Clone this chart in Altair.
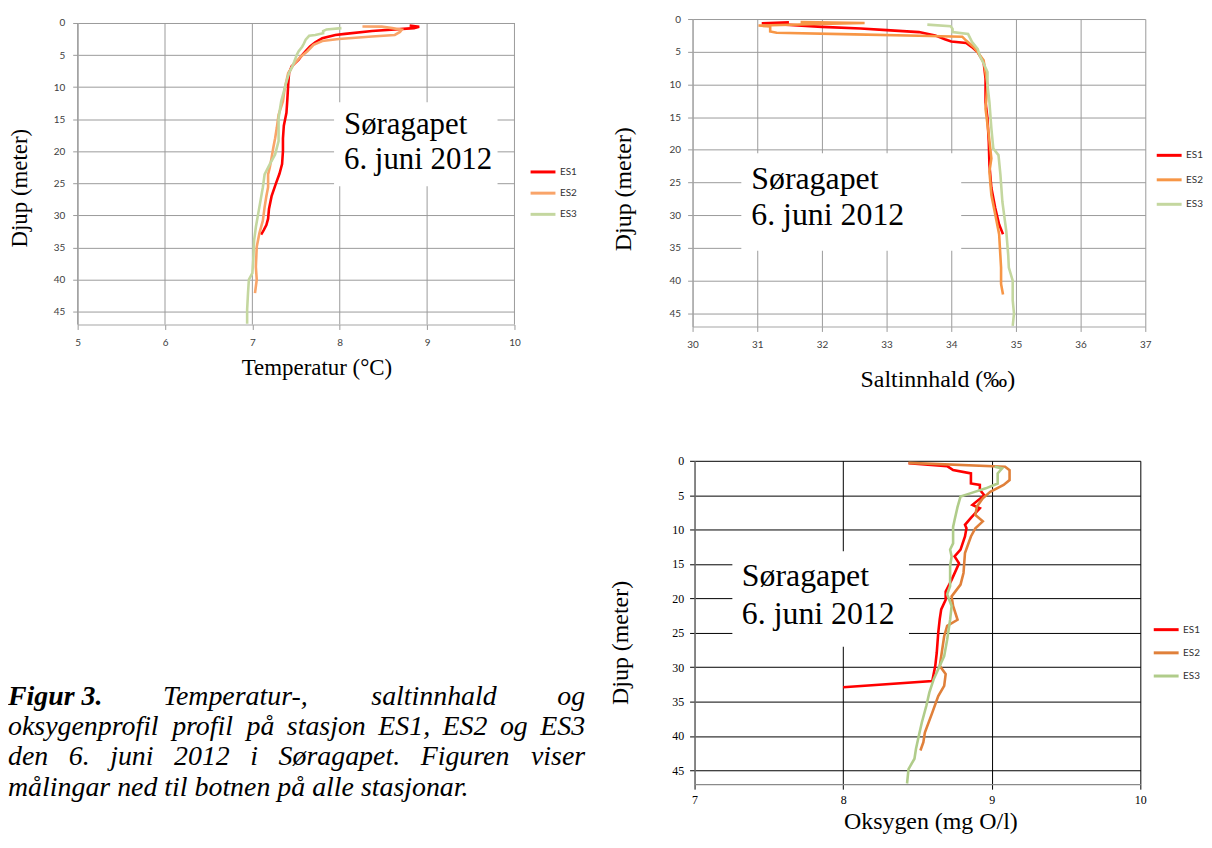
import altair as alt
import pandas as pd

SERIF = "Liberation Serif"
SANS = "Lato"
STATIONS = ["ES1", "ES2", "ES3"]
DEPTH_TICKS = [0, 5, 10, 15, 20, 25, 30, 35, 40, 45]
DEPTH_DOMAIN = [0, 47]

# ---------------- Temperatur (°C) ----------------
temp_ticks = [5, 6, 7, 8, 9, 10]
temp_es1_depth = [0.4, 0.6, 0.8, 1.24, 1.7, 1.86, 2.38, 3.0, 3.66, 4.4, 5.0, 5.7, 6.75, 7.8, 9.6,
                  12, 14, 16, 18, 20, 22, 23.5, 25, 27, 29, 30.5, 31.5, 32.3, 33]
temp_es1_value = [8.80, 8.91, 8.85, 8.37, 8.06, 7.95, 7.80, 7.72, 7.66, 7.61, 7.57, 7.53, 7.45, 7.42, 7.41,
                  7.40, 7.39, 7.36, 7.35, 7.35, 7.34, 7.31, 7.27, 7.22, 7.19, 7.18, 7.16, 7.13, 7.10]
temp_es2_depth = [0.55, 0.57, 0.8, 1.05, 1.4, 1.86, 2.1, 2.5, 2.8, 3.4, 4.4, 5.3, 6.5, 7.8, 9.0, 10.2,
                  12.2, 14.3, 16.3, 18.0, 19.4, 21.0, 22.5, 23.6, 25.6, 27.0, 28.7, 30.8, 32.8, 34.9,
                  38.0, 40.0, 42.1]
temp_es2_value = [8.26, 8.48, 8.60, 8.71, 8.69, 8.63, 8.37, 7.99, 7.80, 7.70, 7.63, 7.55, 7.47, 7.41, 7.39, 7.37,
                  7.35, 7.30, 7.28, 7.26, 7.24, 7.22, 7.20, 7.18, 7.18, 7.16, 7.14, 7.12, 7.08, 7.05,
                  7.04, 7.05, 7.03]
temp_es3_depth = [0.8, 1.0, 1.25, 1.6, 1.86, 2.0, 2.6, 3.2, 3.7, 4.4, 4.9, 6.0, 7.0, 7.8, 9.6, 10.2,
                  12.2, 14.8, 18.4, 20.5, 22.0, 23.6, 25.6, 28.7, 31.8, 33.9, 37.0, 39.0, 40.0, 42.1,
                  44.7, 46.9]
temp_es3_value = [8.02, 7.85, 7.81, 7.81, 7.72, 7.65, 7.61, 7.59, 7.57, 7.53, 7.51, 7.48, 7.45, 7.42, 7.38, 7.37,
                  7.33, 7.30, 7.30, 7.26, 7.20, 7.14, 7.12, 7.08, 7.04, 7.02, 7.01, 7.00, 6.96, 6.95,
                  6.94, 6.94]

# ---------------- Saltinnhald (‰) ----------------
sal_ticks = [30, 31, 32, 33, 34, 35, 36, 37]
sal_es1_depth = [0.5, 0.65, 0.9, 1.2, 1.45, 1.7, 2.0, 2.5, 3.1, 3.45, 3.65, 4.3, 5.1, 6.6, 9.1, 12.7,
                 15.2, 18.8, 22.3, 25.8, 28.9, 31.4, 32.9]
sal_es1_value = [31.49, 31.07, 31.5, 32.0, 32.6, 33.0, 33.5, 33.75, 33.9, 34.0, 34.23, 34.32, 34.41, 34.50,
                 34.53, 34.53, 34.56, 34.58, 34.59, 34.62, 34.68, 34.74, 34.80]
sal_es2_depth = [0.45, 0.6, 0.8, 1.0, 1.15, 1.9, 2.1, 2.35, 2.55, 2.7, 3.3, 4.3, 6.3, 10.1, 13.7, 17.7,
                 21.3, 23.3, 26.9, 29.9, 32.9, 38.0, 40.5, 42.1]
sal_es2_value = [31.67, 32.66, 31.8, 31.02, 31.2, 31.2, 31.3, 32.5, 33.5, 34.17, 34.23, 34.35, 34.50, 34.56,
                 34.53, 34.58, 34.62, 34.59, 34.62, 34.68, 34.74, 34.77, 34.77, 34.80]
sal_es3_depth = [0.86, 1.1, 1.5, 2.0, 2.3, 3.5, 4.6, 5.6, 6.8, 8.1, 10.1, 12.7, 16.7, 19.8, 20.8, 23.8,
                 27.9, 30.9, 32.4, 36.0, 38.0, 40.0, 43.0, 45.0, 46.9]
sal_es3_value = [33.63, 33.99, 34.02, 34.02, 34.26, 34.32, 34.41, 34.44, 34.50, 34.56, 34.56, 34.59, 34.62,
                 34.65, 34.73, 34.76, 34.79, 34.83, 34.85, 34.88, 34.89, 34.95, 34.95, 34.97, 34.95]

# ---------------- Oksygen (mg O/l) ----------------
oxy_ticks = [7, 8, 9, 10]
oxy_es1_depth = [0.35, 0.77, 1.35, 1.83, 3.3, 3.5, 4.2, 5.0, 6.4, 6.9, 8.3, 9.3, 9.8, 11.0, 12.9, 13.9,
                 14.9, 17.3, 19.0, 20.2, 21.6, 23.0, 25.0, 27.9, 29.8, 32.0, 32.9]
oxy_es1_value = [8.44, 8.70, 8.74, 8.86, 8.86, 8.92, 8.92, 8.95, 8.87, 8.92, 8.86, 8.82, 8.83, 8.82, 8.79,
                 8.75, 8.78, 8.73, 8.69, 8.69, 8.66, 8.65, 8.64, 8.63, 8.62, 8.60, 8.00]
oxy_es2_depth = [0.3, 0.87, 1.35, 2.8, 3.5, 4.5, 5.45, 6.66, 7.86, 8.8, 9.8, 11.0, 13.4, 16.3, 18.0, 19.7,
                 21.1, 23.1, 24.0, 25.5, 28.4, 29.8, 31.0, 32.7, 34.2, 36.6, 39.5, 40.9, 42.1]
oxy_es2_value = [8.44, 9.09, 9.12, 9.12, 9.08, 8.99, 8.94, 8.90, 8.89, 8.94, 8.89, 8.86, 8.82, 8.81, 8.79,
                 8.73, 8.74, 8.77, 8.70, 8.68, 8.66, 8.65, 8.69, 8.68, 8.64, 8.60, 8.55, 8.54, 8.52]
oxy_es3_depth = [0.87, 1.1, 1.83, 3.3, 4.0, 4.7, 5.2, 6.7, 8.6, 9.6, 12.0, 12.9, 13.9, 15.3, 18.2, 19.4,
                 21.1, 23.1, 26.0, 28.4, 29.8, 31.7, 33.7, 35.6, 38.0, 39.9, 41.9, 43.3, 44.8, 46.9]
oxy_es3_value = [9.02, 9.07, 9.04, 9.04, 8.96, 8.86, 8.79, 8.77, 8.75, 8.74, 8.74, 8.72, 8.73, 8.72, 8.72,
                 8.70, 8.73, 8.72, 8.70, 8.68, 8.65, 8.61, 8.58, 8.56, 8.53, 8.51, 8.49, 8.48, 8.44, 8.43]

NOTE_LINES = ["Søragapet", "6. juni 2012"]
CAPTION_LINE1 = [("Figur 3.", "bold"), ("Temperatur-,", "normal"), ("saltinnhald", "normal"), ("og", "normal")]
CAPTION_LINES = [
    "oksygenprofil profil på stasjon ES1, ES2 og ES3",
    "den 6. juni 2012 i Søragapet. Figuren viser",
    "målingar ned til botnen på alle stasjonar.",
]


def profile_frame(series):
    rows = []
    for station, depths, values in series:
        for i, (d, v) in enumerate(zip(depths, values)):
            rows.append({"stasjon": station, "djup": d, "verdi": v, "rekkje": i})
    return pd.DataFrame(rows)


ONE = pd.DataFrame({"k": [0]})


def panel(df, x_domain, x_ticks, x_title, width, height, colors, grid_color, domain_color,
          tick_font, tick_size, tick_color, title_size, y_title_x, y_title_dy, x_title_x, x_title_y,
          legend_x, legend_y, legend_row_pad, box, note_xy, note_size, note_lh, label_pad_x, label_pad_y,
          y_top=0):
    if y_top:
        # plot area starts a few pixels below the shared top edge of the row
        y_scale = alt.Scale(domain=DEPTH_DOMAIN, range=[y_top, height], nice=False, zero=False)
    else:
        y_scale = alt.Scale(domain=DEPTH_DOMAIN, reverse=True, nice=False, zero=False)
    x_scale = alt.Scale(domain=x_domain, nice=False, zero=False)
    y_axis = alt.Axis(values=DEPTH_TICKS, title="Djup (meter)", grid=True, gridColor=grid_color,
                      gridWidth=1, domainColor=domain_color, domainWidth=1.2, tickColor=grid_color,
                      tickSize=5, labelFont=tick_font, labelFontSize=tick_size, labelColor=tick_color,
                      labelPadding=label_pad_y, labelFlush=False, labelOverlap=False,
                      titleFont=SERIF, titleFontSize=title_size, titleFontWeight="normal",
                      titleColor="black", titleX=y_title_x, titleY=height / 2 + y_title_dy,
                      titleBaseline="middle")
    x_axis = alt.Axis(values=x_ticks, title=x_title, grid=not y_top, gridColor=grid_color, gridWidth=1,
                      domainColor=domain_color, domainWidth=1.2, tickColor=grid_color, tickSize=5,
                      labelFont=tick_font, labelFontSize=tick_size, labelColor=tick_color,
                      labelPadding=label_pad_x, labelFlush=False, labelOverlap=False,
                      titleFont=SERIF, titleFontSize=title_size, titleFontWeight="normal",
                      titleColor="black", titleX=x_title_x, titleY=x_title_y, titleBaseline="middle")
    legend = alt.Legend(title=None, orient="none", legendX=legend_x, legendY=legend_y,
                        symbolType="stroke", symbolSize=625, symbolStrokeWidth=3,
                        labelFont=SANS, labelFontSize=10, labelColor="#333333",
                        rowPadding=legend_row_pad, labelOffset=3)
    lines = alt.Chart(df).mark_line(strokeWidth=2.6, clip=True).encode(
        x=alt.X("verdi:Q", scale=x_scale, axis=x_axis),
        y=alt.Y("djup:Q", scale=y_scale, axis=y_axis),
        color=alt.Color("stasjon:N", scale=alt.Scale(domain=STATIONS, range=colors), legend=legend),
        order="rekkje:Q",
    )
    layers = []
    if y_top:
        # vertical grid lines drawn only over the depth range
        grid_df = pd.DataFrame({"verdi": x_ticks})
        vgrid = alt.Chart(grid_df).mark_rule(color=grid_color, strokeWidth=1).encode(
            x=alt.X("verdi:Q", scale=x_scale, axis=x_axis),
            y=alt.YDatum(DEPTH_DOMAIN[0], scale=y_scale, axis=y_axis),
            y2=alt.datum(DEPTH_DOMAIN[1]))
        layers.append(vgrid)
    bx0, bx1, by0, by1 = box
    rect = alt.Chart(ONE).mark_rect(fill="white").encode(
        x=alt.value(bx0), x2=alt.value(bx1), y=alt.value(by0), y2=alt.value(by1))
    note = alt.Chart(ONE).mark_text(text=NOTE_LINES, align="left", baseline="alphabetic", font=SERIF,
                                    fontSize=note_size, lineHeight=note_lh, color="black").encode(
        x=alt.value(note_xy[0]), y=alt.value(note_xy[1]))
    layers += [rect, lines, note]
    return alt.layer(*layers).properties(width=width, height=height)


temp_df = profile_frame([("ES1", temp_es1_depth, temp_es1_value),
                         ("ES2", temp_es2_depth, temp_es2_value),
                         ("ES3", temp_es3_depth, temp_es3_value)])
sal_df = profile_frame([("ES1", sal_es1_depth, sal_es1_value),
                        ("ES2", sal_es2_depth, sal_es2_value),
                        ("ES3", sal_es3_depth, sal_es3_value)])
oxy_df = profile_frame([("ES1", oxy_es1_depth, oxy_es1_value),
                        ("ES2", oxy_es2_depth, oxy_es2_value),
                        ("ES3", oxy_es3_depth, oxy_es3_value)])

p1 = panel(temp_df, [5, 10], temp_ticks, "Temperatur (°C)", 439, 307,
           ["#ff0000", "#f9a469", "#c4d79f"], "#9a9a9a", "#a6a6a6", SANS, 10, "#404040", 23,
           -58, 16, 240, 43, 453.7, 139.7, 1.3, (257.7, 422, 83.7, 168), (267.7, 116), 31, 35, 8, 8,
           y_top=4)
p2 = panel(sal_df, [30, 37], sal_ticks, "Saltinnhald (‰)", 455, 309,
           ["#ff0000", "#f79646", "#c4d79f"], "#9a9a9a", "#a6a6a6", SANS, 10, "#404040", 24,
           -69.5, 16, 246, 53, 465, 123, 4.6, (49, 270, 135, 233), (59, 171), 32, 36, 8, 7)
p3 = panel(oxy_df, [7, 10], oxy_ticks, "Oksygen (mg O/l)", 448, 325,
           ["#ff0000", "#e0803a", "#b0cc8a"], "#000000", "#8a8a8a", SERIF, 12, "#000000", 24,
           -74.5, 20, 237, 38, 460, 155.7, 3.3, (38, 215.5, 91, 187), (47.5, 125.7), 32, 38, 5, 6)

# ---------------- caption (justified italic text) ----------------
CAP_SIZE = 28
CAP_X0, CAP_X1 = -70, 510
CAP_BASELINES = [245, 275.5, 306, 336.5]
ITALIC_W = {" ": 250, ",": 250, "-": 333, ".": 250, "E": 611, "F": 611, "S": 500, "T": 556,
            "a": 500, "b": 500, "c": 444, "d": 500, "e": 444, "f": 278, "g": 500, "h": 500, "i": 278,
            "j": 278, "k": 444, "l": 278, "m": 722, "n": 500, "o": 500, "p": 500, "r": 389, "s": 389,
            "t": 278, "u": 500, "v": 444, "y": 444, "å": 500, "ø": 500}
BOLD_ITALIC_W = {" ": 250, ".": 250, "F": 667, "i": 278, "g": 500, "u": 556, "r": 389}


def word_width(word, weight):
    table = BOLD_ITALIC_W if weight == "bold" else ITALIC_W
    return sum(table.get(ch, 500) for ch in word) * CAP_SIZE / 1000.0


caption_rows = []
all_lines = [CAPTION_LINE1] + [[(w, "normal") for w in line.split()] for line in CAPTION_LINES]
for li, words in enumerate(all_lines):
    widths = [word_width(w, wt) for w, wt in words]
    if li < len(all_lines) - 1:
        gap = (CAP_X1 - CAP_X0 - sum(widths)) / (len(words) - 1)
    else:
        gap = 0.25 * CAP_SIZE
    x = CAP_X0
    for (w, wt), wd in zip(words, widths):
        caption_rows.append({"ord": w, "vekt": wt, "px": x, "py": CAP_BASELINES[li]})
        x += wd + gap
cap_df = pd.DataFrame(caption_rows)

cap_enc = dict(x=alt.X("px:Q", scale=None, axis=None), y=alt.Y("py:Q", scale=None, axis=None),
               text="ord:N")
cap_bold = alt.Chart(cap_df).transform_filter("datum.vekt == 'bold'").mark_text(
    align="left", baseline="alphabetic", font=SERIF, fontSize=CAP_SIZE, fontStyle="italic",
    fontWeight="bold", color="black").encode(**cap_enc)
cap_norm = alt.Chart(cap_df).transform_filter("datum.vekt != 'bold'").mark_text(
    align="left", baseline="alphabetic", font=SERIF, fontSize=CAP_SIZE, fontStyle="italic",
    fontWeight="normal", color="black").encode(**cap_enc)
caption = alt.layer(cap_bold, cap_norm).properties(width=510, height=325)

row1 = alt.hconcat(p1, p2, spacing=33).resolve_scale(color="independent").resolve_legend(color="independent")
row2 = alt.hconcat(caption, p3, spacing=22).resolve_scale(color="independent").resolve_legend(color="independent")
chart = alt.vconcat(row1, row2, spacing=64).resolve_scale(color="independent").resolve_legend(
    color="independent").properties(
    padding={"left": 0, "top": 4, "right": 0, "bottom": 0}
).configure_view(strokeWidth=0)

chart.save("out.html", embed_options={"renderer": "svg", "actions": False})
